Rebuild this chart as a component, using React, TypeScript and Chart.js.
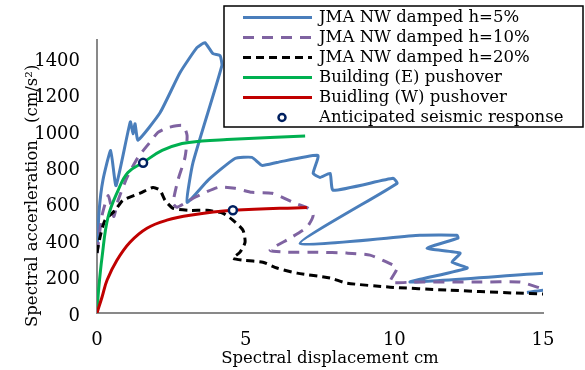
import React, { useEffect, useRef } from "react";
import { Chart, registerables } from "chart.js";

Chart.register(...registerables);

// ---- Data ----
const xAxisTitle = "Spectral displacement cm";
const yAxisTitle = "Spectral accerleration\u3000(cm/s\u00B2)";

const legendLabels = [
  "JMA NW damped h=5%",
  "JMA NW damped h=10%",
  "JMA NW damped h=20%",
  "Building (E) pushover",
  "Buidling (W) pushover",
  "Anticipated seismic response",
];

const h5X = [0, 0.07, 0.2, 0.46, 0.64, 1.12, 1.21, 1.28, 1.38, 2.12, 2.79, 3.36, 3.63, 3.9, 4.14, 4.2, 3.23, 3.03, 3.73, 4.64, 5.21, 5.55, 6.05, 7.43, 7.27, 7.5, 7.84, 7.94, 9.96, 10.09, 6.83, 10.86, 12.11, 12.14, 11.1, 12.21, 11.94, 12.45, 10.53, 15.07, 15.6, 15.6, 15.07, 14.46];
const h5Y = [330, 560, 730, 893, 700, 1050, 985, 1040, 950, 1100, 1320, 1458, 1485, 1425, 1414, 1359, 827, 608, 729, 849, 855, 811, 827, 866, 767, 745, 767, 674, 740, 712, 383, 427, 427, 411, 356, 329, 279, 247, 170, 219, 215, 125, 126, 113];

const h10X = [0, 0.07, 0.17, 0.38, 0.56, 0.71, 1.01, 1.38, 1.75, 2.05, 2.39, 2.89, 3.03, 2.96, 2.72, 2.56, 2.69, 3.3, 4.07, 4.64, 5.21, 5.89, 6.66, 7.1, 7.27, 7.06, 6.49, 5.82, 6.39, 7.4, 8.41, 9.18, 9.75, 10.09, 9.86, 10.63, 12.88, 14.23, 14.9, 15.14];
const h10Y = [330, 416, 537, 645, 530, 619, 745, 855, 932, 992, 1019, 1030, 975, 855, 729, 603, 581, 636, 690, 685, 663, 658, 603, 575, 537, 471, 411, 345, 334, 334, 329, 318, 279, 247, 170, 170, 170, 170, 137, 121];

const h20X = [0, 0.1, 0.27, 0.61, 0.87, 1.45, 1.88, 2.12, 2.29, 2.56, 3.13, 3.7, 4.24, 4.57, 4.91, 4.98, 4.81, 4.57, 4.91, 5.58, 6.05, 6.73, 7.84, 8.41, 9.86, 11.77, 13.99, 15.1];
const h20Y = [330, 416, 510, 564, 619, 658, 690, 674, 619, 575, 564, 564, 548, 510, 455, 389, 334, 301, 290, 279, 247, 219, 192, 164, 142, 126, 110, 104];

const eastX = [0, 0.05, 0.17, 0.37, 0.71, 1.04, 1.55, 2.19, 2.86, 3.53, 4.37, 5.82, 7.0];
const eastY = [0, 120, 307, 526, 674, 772, 827, 893, 931, 945, 953, 964, 972];

const westX = [0, 0.17, 0.34, 0.67, 1.11, 1.68, 2.35, 3.13, 4.57, 7.06];
const westY = [0, 88, 181, 290, 389, 466, 510, 537, 564, 580];

const responseX = [1.55, 4.57];
const responseY = [825, 565];

const xMin = 0, xMax = 15, xStep = 5;
const yMin = 0, yMax = 1500, yStep = 200;

// ---- Styles ----
const FONT = "'DejaVu Serif', serif";
const COLORS = {
  h5: "#4A7EBB",
  h10: "#7F63A1",
  h20: "#000000",
  east: "#00B050",
  west: "#C00000",
  resp: "#002060",
};
const DASH10 = [11, 8];
const DASH20 = [8, 5];

const pts = (xs: number[], ys: number[]) => xs.map((x, i) => ({ x, y: ys[i] }));

const overlayPlugin = {
  id: "overlay",
  afterDraw(chart: any) {
    const ctx = chart.ctx as CanvasRenderingContext2D;
    ctx.save();
    // Axis titles
    ctx.fillStyle = "#000";
    ctx.font = `16.5px ${FONT}`;
    ctx.textAlign = "center";
    ctx.textBaseline = "alphabetic";
    ctx.fillText(xAxisTitle, 330, 363);
    ctx.save();
    ctx.translate(37, 327);
    ctx.rotate(-Math.PI / 2);
    ctx.textAlign = "left";
    ctx.fillText(yAxisTitle, 0, 0);
    ctx.restore();

    // Legend box
    const bx = 224, by = 6, bw = 359, bh = 121;
    ctx.fillStyle = "#fff";
    ctx.fillRect(bx, by, bw, bh);
    ctx.strokeStyle = "#000";
    ctx.lineWidth = 1.5;
    ctx.strokeRect(bx, by, bw, bh);

    const styles = [
      { c: COLORS.h5, d: [] as number[] },
      { c: COLORS.h10, d: DASH10 },
      { c: COLORS.h20, d: DASH20 },
      { c: COLORS.east, d: [] as number[] },
      { c: COLORS.west, d: [] as number[] },
    ];
    legendLabels.forEach((label, i) => {
      const yy = 17.5 + i * 20;
      if (i < 5) {
        ctx.beginPath();
        ctx.setLineDash(styles[i].d);
        ctx.strokeStyle = styles[i].c;
        ctx.lineWidth = 3;
        ctx.moveTo(243, yy);
        ctx.lineTo(312, yy);
        ctx.stroke();
        ctx.setLineDash([]);
      } else {
        ctx.beginPath();
        ctx.arc(282, yy, 3.5, 0, Math.PI * 2);
        ctx.fillStyle = "#fff";
        ctx.fill();
        ctx.lineWidth = 2.5;
        ctx.strokeStyle = COLORS.resp;
        ctx.stroke();
      }
      ctx.fillStyle = "#000";
      ctx.font = `16.5px ${FONT}`;
      ctx.textAlign = "left";
      ctx.textBaseline = "middle";
      ctx.fillText(label, 319, yy);
    });
    ctx.restore();
  },
};

export default function App() {
  const ref = useRef<HTMLCanvasElement | null>(null);

  useEffect(() => {
    document.body.style.margin = "0";
    if (!ref.current) return;
    const lineDs = (label: string, xs: number[], ys: number[], color: string, dash: number[], tension: number) => ({
      label,
      data: pts(xs, ys),
      showLine: true,
      borderColor: color,
      backgroundColor: color,
      borderWidth: 3,
      borderDash: dash,
      borderCapStyle: "butt" as const,
      pointRadius: 0,
      pointHoverRadius: 0,
      fill: false,
      tension,
    });

    const chart = new Chart(ref.current, {
      type: "scatter",
      data: {
        datasets: [
          {
            label: legendLabels[5],
            data: pts(responseX, responseY),
            showLine: false,
            pointRadius: 4,
            pointBorderWidth: 2.5,
            pointBorderColor: COLORS.resp,
            pointBackgroundColor: "#fff",
          } as any,
          lineDs(legendLabels[4], westX, westY, COLORS.west, [], 0.4),
          lineDs(legendLabels[3], eastX, eastY, COLORS.east, [], 0.4),
          lineDs(legendLabels[2], h20X, h20Y, COLORS.h20, DASH20, 0.2),
          lineDs(legendLabels[1], h10X, h10Y, COLORS.h10, DASH10, 0.2),
          lineDs(legendLabels[0], h5X, h5Y, COLORS.h5, [], 0.15),
        ],
      },
      options: {
        responsive: false,
        animation: false,
        layout: { padding: { top: 40, right: 42, left: 0, bottom: 0 } },
        plugins: { legend: { display: false }, tooltip: { enabled: false }, title: { display: false } },
        scales: {
          x: {
            type: "linear",
            min: xMin,
            max: xMax,
            grid: { display: false, drawTicks: false },
            border: { display: true, color: "#898989", width: 2 },
            ticks: {
              stepSize: xStep,
              color: "#000",
              font: { family: FONT, size: 18 },
              padding: 17,
              maxRotation: 0,
              callback: (v: any) => String(v),
            },
            afterFit: (s: any) => { s.height = 57; },
          },
          y: {
            type: "linear",
            min: yMin,
            max: yMax,
            grid: { display: false, drawTicks: false },
            border: { display: true, color: "#898989", width: 2 },
            ticks: {
              stepSize: yStep,
              includeBounds: false,
              color: "#000",
              font: { family: FONT, size: 18 },
              padding: 17,
              labelOffset: 3,
              callback: (v: any) => String(v),
            },
            afterFit: (s: any) => { s.width = 97; },
          },
        },
      },
      plugins: [overlayPlugin],
    });
    return () => chart.destroy();
  }, []);

  return (
    <div style={{ width: 585, height: 370 }}>
      <canvas ref={ref} width={585} height={370} />
    </div>
  );
}
